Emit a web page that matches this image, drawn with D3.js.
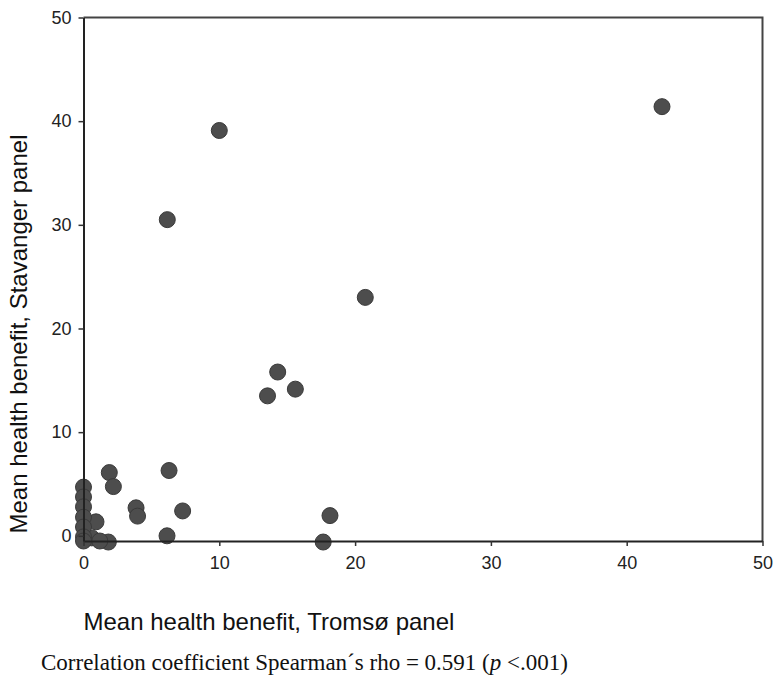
<!DOCTYPE html>
<html>
<head>
<meta charset="utf-8">
<script src="https://cdn.jsdelivr.net/npm/d3@7"></script>
<style>
  body { margin: 0; background: #fff; }
  svg { display: block; }
</style>
</head>
<body>
<div id="viz"></div>
<script>
// Mean health benefit per item, Tromsø panel (x) vs Stavanger panel (y)
var tromso = [42.6, 10.0, 6.17, 20.75, 14.3, 15.6, 13.55, 1.9, 6.3, 2.2, 3.87, 3.98, 7.3, 18.15,
              6.15, 17.65, 1.83, 0.92, 0.6, 1.2, 0, 0, 0, 0, 0, 0, 0];
var stavanger = [41.4, 39.1, 30.5, 23.0, 15.8, 14.15, 13.5, 6.1, 6.3, 4.75, 2.7, 1.9, 2.4, 1.95,
                 0.0, -0.6, -0.6, 1.35, -0.2, -0.5, 4.7, 3.75, 2.8, 1.8, 0.85, -0.1, -0.5];
var xTicks = [0, 10, 20, 30, 40, 50];
var yTicks = [0, 10, 20, 30, 40, 50];

var width = 777, height = 681;
// plot area edges (top is a reserved global in browsers, so use plot*)
var plotLeft = 83.5, plotRight = 762.5, plotTop = 17.5, plotBottom = 541;

var points = tromso.map(function(d, i) { return {x: d, y: stavanger[i]}; });

var svg = d3.select("#viz")
  .append("svg")
  .attr("width", width)
  .attr("height", height);

var x = d3.scaleLinear().domain([0, 50]).range([plotLeft, plotRight]);
var y = d3.scaleLinear().domain([-0.5, 50]).range([plotBottom, plotTop]);

// points
svg.append("g").attr("id", "points")
  .selectAll("circle")
  .data(points)
  .enter().append("circle")
  .attr("cx", function(d) { return x(d.x); })
  .attr("cy", function(d) { return y(d.y); })
  .attr("r", 8)
  .attr("fill", "#4d4d4d")
  .attr("stroke", "#3a3a3a")
  .attr("stroke-width", 1);

// frame (top + right)
svg.append("path")
  .attr("d", "M" + plotLeft + "," + plotTop + "H" + plotRight + "V" + plotBottom)
  .attr("fill", "none")
  .attr("stroke", "#444")
  .attr("stroke-width", 2);

// axes
var xAxis = svg.append("g")
  .attr("transform", "translate(0," + plotBottom + ")")
  .call(d3.axisBottom(x).tickValues(xTicks).tickSize(5).tickSizeOuter(0).tickPadding(10));
var yAxis = svg.append("g")
  .attr("transform", "translate(" + plotLeft + ",0)")
  .call(d3.axisLeft(y).tickValues(yTicks).tickSize(5).tickSizeOuter(0).tickPadding(7));

[xAxis, yAxis].forEach(function(ax) {
  ax.select(".domain").attr("stroke", "#222").attr("stroke-width", 2);
  ax.selectAll(".tick line").attr("stroke", "#333").attr("stroke-width", 1.5);
  ax.selectAll(".tick text")
    .attr("fill", "#222")
    .style("font-family", "'Liberation Sans', Arial, sans-serif")
    .style("font-size", "18px");
});

// titles
svg.append("text")
  .attr("x", plotLeft)
  .attr("y", 630)
  .attr("fill", "#111")
  .style("font-family", "'Liberation Sans', Arial, sans-serif")
  .style("font-size", "24px")
  .text("Mean health benefit, Tromsø panel");

svg.append("text")
  .attr("transform", "translate(27,334) rotate(-90)")
  .attr("text-anchor", "middle")
  .attr("fill", "#111")
  .style("font-family", "'Liberation Sans', Arial, sans-serif")
  .style("font-size", "24px")
  .text("Mean health benefit, Stavanger panel");

var caption = svg.append("text")
  .attr("x", 41)
  .attr("y", 670)
  .attr("fill", "#111")
  .style("font-family", "'Liberation Serif', 'Times New Roman', serif")
  .style("font-size", "23px");
caption.append("tspan").text("Correlation coefficient Spearman´s rho = 0.591 (");
caption.append("tspan").style("font-style", "italic").text("p");
caption.append("tspan").text(" <.001)");
</script>
</body>
</html>
